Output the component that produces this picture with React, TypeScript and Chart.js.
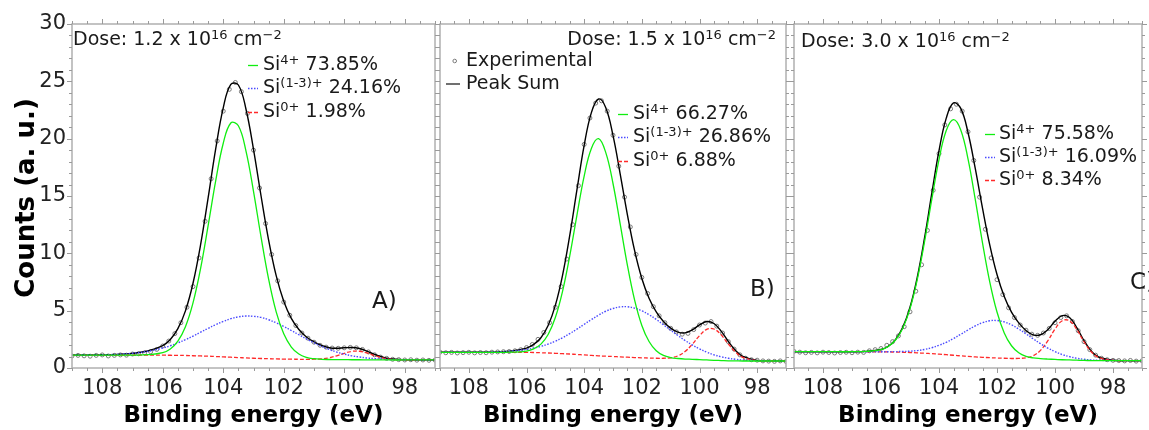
import React, { useEffect, useRef } from "react";
import { Chart, registerables } from "chart.js";

Chart.register(...registerables);

const FONT = "'DejaVu Sans', 'Liberation Sans', sans-serif";
const TEXT = "#1a1a1a";

// Binding energy grids (eV)
const X_EXP = [
  109, 108.8, 108.6, 108.4, 108.2, 108, 107.8, 107.6, 107.4, 107.2, 107, 106.8, 106.6, 106.4, 106.2, 106,
  105.8, 105.6, 105.4, 105.2, 105, 104.8, 104.6, 104.4, 104.2, 104, 103.8, 103.6, 103.4, 103.2, 103,
  102.8, 102.6, 102.4, 102.2, 102, 101.8, 101.6, 101.4, 101.2, 101, 100.8, 100.6, 100.4, 100.2, 100,
  99.8, 99.6, 99.4, 99.2, 99, 98.8, 98.6, 98.4, 98.2, 98, 97.8, 97.6, 97.4, 97.2, 97,
];
const X_CURVE = [
  109, 108.5, 108, 107.5, 107, 106.5, 106, 105.75, 105.5, 105.25, 105, 104.75, 104.5, 104.25, 104,
  103.75, 103.5, 103.25, 103, 102.75, 102.5, 102.25, 102, 101.75, 101.5, 101.25, 101, 100.75, 100.5,
  100.25, 100, 99.75, 99.5, 99.25, 99, 98.75, 98.5, 98, 97.5, 97,
];
const X_TICKS = [108, 106, 104, 102, 100, 98];

// Panel A — dose 1.2e16
const A_EXP = [
  1.05, 1.1, 1.06, 1.03, 1.1, 1.14, 1.05, 1.1, 1.14, 1.12, 1.22, 1.24, 1.32, 1.42, 1.62, 1.92,
  2.35, 3.0, 3.95, 5.3, 7.1, 9.6, 12.8, 16.5, 19.8, 22.4, 24.3, 24.9, 24.1, 22.2, 19.0,
  15.7, 12.6, 9.9, 7.6, 5.75, 4.6, 3.7, 3.05, 2.6, 2.25, 1.98, 1.82, 1.74, 1.72, 1.76,
  1.8, 1.76, 1.62, 1.4, 1.15, 0.95, 0.84, 0.76, 0.73, 0.7, 0.72, 0.68, 0.7, 0.67, 0.69,
];
const A_SUM = [
  1.13, 1.14, 1.15, 1.19, 1.28, 1.48, 1.96, 2.49, 3.43, 4.98, 7.39, 10.74, 14.84, 19.1, 22.69,
  24.73, 24.68, 22.59, 19.07, 15.0, 11.16, 8.05, 5.82, 4.33, 3.36, 2.71, 2.28, 1.96, 1.77,
  1.72, 1.76, 1.79, 1.7, 1.47, 1.19, 0.96, 0.81, 0.72, 0.7, 0.7,
];
const A_SI4 = [
  1.13, 1.13, 1.13, 1.13, 1.13, 1.16, 1.34, 1.66, 2.34, 3.6, 5.68, 8.67, 12.41, 16.32, 19.6,
  21.37, 21.13, 18.94, 15.41, 11.42, 7.76, 4.9, 2.98, 1.83, 1.22, 0.93, 0.81, 0.76, 0.74,
  0.73, 0.73, 0.72, 0.72, 0.71, 0.71, 0.71, 0.7, 0.7, 0.7, 0.7,
];
const A_SI13 = [
  1.13, 1.14, 1.15, 1.19, 1.28, 1.45, 1.74, 1.94, 2.19, 2.47, 2.78, 3.12, 3.46, 3.78, 4.06,
  4.3, 4.46, 4.53, 4.51, 4.41, 4.21, 3.94, 3.62, 3.27, 2.9, 2.53, 2.2, 1.89, 1.62,
  1.39, 1.21, 1.06, 0.96, 0.87, 0.82, 0.78, 0.74, 0.72, 0.7, 0.7,
];
const A_SI0 = [
  1.13, 1.13, 1.13, 1.13, 1.13, 1.13, 1.12, 1.11, 1.1, 1.09, 1.07, 1.05, 1.03, 1.0, 0.97,
  0.94, 0.91, 0.88, 0.85, 0.83, 0.81, 0.79, 0.78, 0.77, 0.76, 0.75, 0.77, 0.79, 0.89,
  1.06, 1.28, 1.45, 1.46, 1.31, 1.08, 0.89, 0.77, 0.7, 0.7, 0.7,
];

// Panel B — dose 1.5e16
const B_EXP = [
  1.38, 1.33, 1.36, 1.31, 1.34, 1.37, 1.32, 1.35, 1.33, 1.38, 1.4, 1.42, 1.44, 1.5, 1.6, 1.78,
  2.05, 2.5, 3.1, 3.95, 5.3, 7.1, 9.5, 12.5, 15.9, 19.5, 21.8, 23.1, 23.3, 22.4, 20.3,
  17.6, 14.9, 12.3, 9.9, 7.9, 6.5, 5.35, 4.55, 3.95, 3.46, 3.15, 2.95, 3.02, 3.35, 3.75,
  3.92, 4.05, 3.65, 3.05, 2.3, 1.65, 1.15, 0.85, 0.72, 0.68, 0.62, 0.6, 0.58, 0.62, 0.57,
];
const B_SUM = [
  1.37, 1.37, 1.37, 1.38, 1.41, 1.49, 1.74, 2.06, 2.64, 3.7, 5.46, 8.08, 11.56, 15.55, 19.41,
  22.27, 23.46, 22.7, 20.28, 16.91, 13.36, 10.23, 7.8, 6.09, 4.9, 4.06, 3.48, 3.13, 3.06,
  3.32, 3.76, 4.05, 3.88, 3.22, 2.31, 1.53, 1.02, 0.67, 0.62, 0.61,
];
const B_SI4 = [
  1.37, 1.37, 1.37, 1.37, 1.37, 1.38, 1.48, 1.67, 2.08, 2.92, 4.4, 6.69, 9.78, 13.34, 16.74,
  19.15, 20.0, 18.78, 16.09, 12.55, 8.96, 5.92, 3.71, 2.31, 1.51, 1.1, 0.91, 0.83, 0.78,
  0.76, 0.73, 0.7, 0.67, 0.65, 0.63, 0.62, 0.61, 0.61, 0.61, 0.61,
];
const B_SI13 = [
  1.37, 1.37, 1.37, 1.38, 1.41, 1.48, 1.62, 1.74, 1.89, 2.09, 2.34, 2.64, 3.0, 3.39, 3.81,
  4.22, 4.61, 4.95, 5.19, 5.33, 5.34, 5.22, 4.98, 4.65, 4.24, 3.77, 3.3, 2.84, 2.4,
  2.01, 1.67, 1.38, 1.15, 0.98, 0.85, 0.76, 0.7, 0.64, 0.62, 0.61,
];
const B_SI0 = [
  1.37, 1.37, 1.37, 1.37, 1.37, 1.37, 1.36, 1.35, 1.33, 1.31, 1.28, 1.25, 1.22, 1.18, 1.14,
  1.1, 1.06, 1.03, 1.0, 0.97, 0.94, 0.91, 0.89, 0.87, 0.85, 0.85, 0.89, 1.06, 1.44,
  2.07, 2.82, 3.37, 3.4, 2.89, 2.09, 1.39, 0.93, 0.64, 0.61, 0.61,
];

// Panel C — dose 3.0e16
const C_EXP = [
  1.45, 1.38, 1.33, 1.36, 1.32, 1.38, 1.35, 1.31, 1.35, 1.37, 1.33, 1.38, 1.36, 1.5, 1.6, 1.7,
  1.98, 2.3, 2.8, 3.6, 4.9, 6.7, 9.0, 12.0, 15.5, 18.7, 21.2, 22.6, 23.0, 22.4, 20.6,
  18.1, 14.9, 12.1, 9.6, 7.7, 6.4, 5.25, 4.4, 3.75, 3.3, 2.95, 2.85, 3.05, 3.45, 3.95,
  4.4, 4.55, 4.05, 3.25, 2.3, 1.6, 1.12, 0.85, 0.72, 0.67, 0.65, 0.62, 0.66, 0.6, 0.63,
];
const C_SUM = [
  1.42, 1.42, 1.42, 1.42, 1.42, 1.45, 1.62, 1.9, 2.48, 3.54, 5.3, 7.91, 11.32, 15.2, 18.95,
  21.79, 23.12, 22.64, 20.54, 17.4, 13.94, 10.74, 8.15, 6.23, 4.87, 3.93, 3.27, 2.89, 2.9,
  3.34, 4.07, 4.57, 4.41, 3.53, 2.39, 1.47, 0.96, 0.67, 0.64, 0.64,
];
const C_SI4 = [
  1.42, 1.42, 1.42, 1.42, 1.42, 1.45, 1.61, 1.88, 2.44, 3.47, 5.18, 7.71, 10.99, 14.68, 18.18,
  20.71, 21.66, 20.76, 18.23, 14.7, 10.92, 7.52, 4.88, 3.06, 1.94, 1.33, 1.02, 0.88, 0.82,
  0.78, 0.75, 0.72, 0.7, 0.68, 0.66, 0.65, 0.64, 0.64, 0.64, 0.64,
];
const C_SI13 = [
  1.42, 1.42, 1.42, 1.42, 1.42, 1.42, 1.42, 1.42, 1.43, 1.44, 1.47, 1.52, 1.62, 1.77, 1.98,
  2.24, 2.57, 2.94, 3.32, 3.67, 3.95, 4.12, 4.14, 4.02, 3.76, 3.4, 2.98, 2.54, 2.12,
  1.74, 1.43, 1.17, 0.99, 0.85, 0.76, 0.7, 0.67, 0.65, 0.64, 0.64,
];
const C_SI0 = [
  1.42, 1.42, 1.42, 1.42, 1.42, 1.42, 1.41, 1.4, 1.39, 1.37, 1.35, 1.32, 1.29, 1.25, 1.21,
  1.16, 1.11, 1.06, 1.01, 0.97, 0.93, 0.9, 0.87, 0.85, 0.83, 0.84, 0.89, 1.07, 1.54,
  2.36, 3.39, 4.12, 4.12, 3.36, 2.29, 1.42, 0.93, 0.66, 0.64, 0.64,
];

const DOSES = ["1.2", "1.5", "3.0"];
const PCT_A = ["73.85%", "24.16%", "1.98%"];
const PCT_B = ["66.27%", "26.86%", "6.88%"];
const PCT_C = ["75.58%", "16.09%", "8.34%"];
const TAGS = ["A)", "B)", "C)"];
const Y_TITLE = "Counts (a. u.)";
const X_TITLE = "Binding energy (eV)";

const COL_SI4 = "#10ee10";
const COL_SI13 = "#4a4aff";
const COL_SI0 = "#ff2a2a";
const COL_SUM = "#000000";
const COL_EXP = "#7a7a7a";

type Seg = [string, boolean];

function drawRich(ctx: CanvasRenderingContext2D, x: number, y: number, segs: Seg[], size: number, align: "left" | "right") {
  const sup = Math.round(size * 0.66);
  const widths = segs.map(([t, s]) => {
    ctx.font = `${s ? sup : size}px ${FONT}`;
    return ctx.measureText(t).width;
  });
  const total = widths.reduce((a, b) => a + b, 0);
  let cx = align === "right" ? x - total : x;
  ctx.textAlign = "left";
  ctx.textBaseline = "middle";
  ctx.fillStyle = TEXT;
  segs.forEach(([t, s], i) => {
    ctx.font = `${s ? sup : size}px ${FONT}`;
    ctx.fillText(t, cx, s ? y - size * 0.22 : y);
    cx += widths[i];
  });
}

type PanelCfg = {
  left: number;
  width: number;
  padLeft: number;
  padRight: number;
  showY: boolean;
  exp: number[];
  sum: number[];
  si4: number[];
  si13: number[];
  si0: number[];
  dose: string;
  doseAlign: "left" | "right";
  doseX: number;
  doseY: number;
  pct: string[];
  legLineX: number;
  legTextX: number;
  legY: number[];
  expLegend: boolean;
  tag: string;
  tagX: number;
  tagY: number;
};

const PANELS: PanelCfg[] = [
  {
    left: 0, width: 440, padLeft: 0, padRight: 4, showY: true,
    exp: A_EXP, sum: A_SUM, si4: A_SI4, si13: A_SI13, si0: A_SI0,
    dose: DOSES[0], doseAlign: "left", doseX: 1, doseY: 40,
    pct: PCT_A, legLineX: 176, legTextX: 191, legY: [65, 88, 112], expLegend: false,
    tag: TAGS[0], tagX: 300, tagY: 302,
  },
  {
    left: 435, width: 356, padLeft: 2, padRight: 3, showY: false,
    exp: B_EXP, sum: B_SUM, si4: B_SI4, si13: B_SI13, si0: B_SI0,
    dose: DOSES[1], doseAlign: "right", doseX: 336, doseY: 40,
    pct: PCT_B, legLineX: 178, legTextX: 193, legY: [114, 137, 161], expLegend: true,
    tag: TAGS[1], tagX: 310, tagY: 290,
  },
  {
    left: 789, width: 360, padLeft: 2, padRight: 7, showY: false,
    exp: C_EXP, sum: C_SUM, si4: C_SI4, si13: C_SI13, si0: C_SI0,
    dose: DOSES[2], doseAlign: "left", doseX: 7, doseY: 42,
    pct: PCT_C, legLineX: 191, legTextX: 205, legY: [134, 157, 180], expLegend: false,
    tag: TAGS[2], tagX: 336, tagY: 283,
  },
];

function makeDecor(cfg: PanelCfg) {
  return {
    id: "decor",
    afterDraw(chart: any) {
      const ctx: CanvasRenderingContext2D = chart.ctx;
      const { left, right, top, bottom } = chart.chartArea;
      const xs = chart.scales.x;
      const ys = chart.scales.y;
      ctx.save();
      // frame
      ctx.strokeStyle = "#b0b0b0";
      ctx.lineWidth = 1.5;
      ctx.strokeRect(left, top, right - left, bottom - top);
      // outward ticks
      ctx.strokeStyle = "#9a9a9a";
      ctx.lineWidth = 1;
      ctx.beginPath();
      for (let v = 97; v <= 109.001; v += 0.5) {
        const px = Math.round(xs.getPixelForValue(v)) + 0.5;
        const major = Math.abs(v - Math.round(v)) < 1e-6 && Math.round(v) % 2 === 0;
        const len = major ? 5 : 3;
        ctx.moveTo(px, bottom);
        ctx.lineTo(px, bottom + len);
        ctx.moveTo(px, top);
        ctx.lineTo(px, top - len);
      }
      for (let v = 0; v <= 30; v += 1) {
        const py = Math.round(ys.getPixelForValue(v)) + 0.5;
        const len = v % 5 === 0 ? 5 : 3;
        ctx.moveTo(left, py);
        ctx.lineTo(left - len, py);
        ctx.moveTo(right, py);
        ctx.lineTo(right + len, py);
      }
      ctx.stroke();

      // y-axis title (panel A only)
      if (cfg.showY) {
        ctx.save();
        ctx.translate(34, (top + bottom) / 2 + 2);
        ctx.rotate(-Math.PI / 2);
        ctx.font = `bold 26px ${FONT}`;
        ctx.fillStyle = "#000";
        ctx.textAlign = "center";
        ctx.textBaseline = "alphabetic";
        ctx.fillText(Y_TITLE, 0, 0);
        ctx.restore();
      }

      // dose label
      drawRich(
        ctx,
        left + cfg.doseX,
        cfg.doseY,
        [["Dose: " + cfg.dose + " x 10", false], ["16", true], [" cm", false], ["\u22122", true]],
        19,
        cfg.doseAlign
      );

      // experimental / peak sum legend (panel B)
      if (cfg.expLegend) {
        ctx.strokeStyle = COL_EXP;
        ctx.lineWidth = 1;
        ctx.beginPath();
        ctx.arc(left + 14.7, 61, 1.8, 0, Math.PI * 2);
        ctx.stroke();
        drawRich(ctx, left + 26, 61, [["Experimental", false]], 19, "left");
        ctx.strokeStyle = "#333";
        ctx.lineWidth = 1.4;
        ctx.beginPath();
        ctx.moveTo(left + 6, 84);
        ctx.lineTo(left + 20, 84);
        ctx.stroke();
        drawRich(ctx, left + 26, 84, [["Peak Sum", false]], 19, "left");
      }

      // component legend
      const styles: [string, number[]][] = [
        [COL_SI4, []],
        [COL_SI13, [1.5, 1.5]],
        [COL_SI0, [4, 2]],
      ];
      const sups = ["4+", "(1-3)+", "0+"];
      for (let i = 0; i < 3; i++) {
        const y = cfg.legY[i];
        ctx.strokeStyle = styles[i][0];
        ctx.setLineDash(styles[i][1]);
        ctx.lineWidth = 1.3;
        ctx.beginPath();
        ctx.moveTo(left + cfg.legLineX, y + 0.5);
        ctx.lineTo(left + cfg.legLineX + 10, y + 0.5);
        ctx.stroke();
        ctx.setLineDash([]);
        drawRich(ctx, left + cfg.legTextX, y, [["Si", false], [sups[i], true], [" " + cfg.pct[i], false]], 19, "left");
      }

      // panel tag
      drawRich(ctx, left + cfg.tagX, cfg.tagY, [[cfg.tag, false]], 23, "left");
      ctx.restore();
    },
  };
}

function Panel({ cfg }: { cfg: PanelCfg }) {
  const ref = useRef<HTMLCanvasElement>(null);
  useEffect(() => {
    const canvas = ref.current;
    if (!canvas) return;
    const curve = (arr: number[]) => X_CURVE.map((x, i) => ({ x, y: arr[i] }));
    const chart = new Chart(canvas, {
      type: "line",
      data: {
        datasets: [
          { label: "Si4+", data: curve(cfg.si4), borderColor: COL_SI4, borderWidth: 1.3, pointRadius: 0, tension: 0.4, fill: false },
          { label: "Si(1-3)+", data: curve(cfg.si13), borderColor: COL_SI13, borderWidth: 1.4, borderDash: [1.5, 1.5], pointRadius: 0, tension: 0.4, fill: false },
          { label: "Si0+", data: curve(cfg.si0), borderColor: COL_SI0, borderWidth: 1.3, borderDash: [4, 2], pointRadius: 0, tension: 0.4, fill: false },
          { label: "Peak Sum", data: curve(cfg.sum), borderColor: COL_SUM, borderWidth: 1.4, pointRadius: 0, tension: 0.4, fill: false },
          {
            label: "Experimental",
            data: X_EXP.map((x, i) => ({ x, y: cfg.exp[i] })),
            showLine: false,
            pointRadius: 2,
            pointBorderWidth: 1,
            pointBorderColor: COL_EXP,
            pointBackgroundColor: "rgba(0,0,0,0)",
          },
        ],
      },
      options: {
        responsive: false,
        animation: false,
        events: [],
        layout: { padding: { top: 24, left: cfg.padLeft, right: cfg.padRight, bottom: 0 } },
        plugins: { legend: { display: false }, tooltip: { enabled: false } },
        scales: {
          x: {
            type: "linear",
            min: 97,
            max: 109,
            reverse: true,
            grid: { display: false, drawTicks: false },
            border: { display: false },
            afterBuildTicks: (s: any) => {
              s.ticks = X_TICKS.map((v) => ({ value: v }));
            },
            afterFit: (s: any) => {
              s.height = 62;
            },
            ticks: {
              padding: 8,
              color: "#222",
              font: { family: FONT, size: 21 },
              callback: (v: any) => String(v),
            },
            title: {
              display: true,
              text: X_TITLE,
              color: "#000",
              font: { family: FONT, size: 23, weight: "bold" },
              padding: { top: 0, bottom: 0 },
            },
          },
          y: {
            type: "linear",
            min: 0,
            max: 30,
            display: cfg.showY,
            grid: { display: false, drawTicks: false },
            border: { display: false },
            afterFit: (s: any) => {
              s.width = cfg.showY ? 72 : 0;
            },
            ticks: {
              stepSize: 5,
              padding: 6,
              color: "#222",
              font: { family: FONT, size: 21 },
            },
            title: { display: false },
          },
        },
      },
      plugins: [makeDecor(cfg)],
    } as any);
    return () => chart.destroy();
  }, [cfg]);
  return (
    <canvas
      ref={ref}
      width={cfg.width}
      height={430}
      style={{ position: "absolute", left: cfg.left, top: 0, width: cfg.width, height: 430 }}
    />
  );
}

export default function App() {
  return (
    <div style={{ position: "absolute", left: 0, top: 0, width: 1149, height: 430, background: "#fff", overflow: "hidden" }}>
      {PANELS.map((p, i) => (
        <Panel key={i} cfg={p} />
      ))}
    </div>
  );
}
